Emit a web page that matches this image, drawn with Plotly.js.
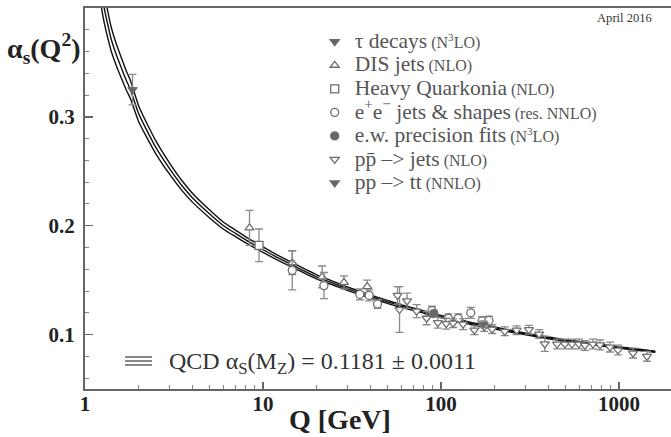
<!DOCTYPE html>
<html>
<head>
<meta charset="utf-8">
<script src="https://cdn.plot.ly/plotly-3.0.1.min.js"></script>
<style>html,body{margin:0;padding:0;background:#fff;}#chart{width:671px;height:437px;}</style>
</head>
<body>
<div id="chart"></div>
<script>
// QCD running-coupling band
const curveQ = [1.2, 1.25, 1.3, 1.35, 1.4, 1.5, 1.6, 1.7, 1.8, 2.0, 2.25, 2.5, 3, 3.5, 4, 5, 6, 7, 8, 10, 12, 15, 20, 25, 30, 40, 50, 60, 75, 91.19, 120, 150, 200, 300, 400, 500, 700, 1000, 1300, 1600];
const alphaCentral = [0.430, 0.410, 0.395, 0.383, 0.372, 0.357, 0.345, 0.334, 0.325, 0.303, 0.286, 0.272, 0.252, 0.237, 0.226, 0.211, 0.200, 0.193, 0.187, 0.178, 0.171, 0.163, 0.153, 0.147, 0.142, 0.135, 0.130, 0.126, 0.122, 0.1181, 0.1135, 0.1100, 0.1060, 0.1005, 0.0970, 0.0945, 0.0915, 0.0880, 0.0860, 0.0842];
const alphaUpper = [0.446, 0.424, 0.408, 0.395, 0.383, 0.367, 0.3544, 0.3428, 0.3333, 0.3103, 0.2925, 0.2779, 0.2571, 0.2415, 0.2301, 0.2146, 0.2032, 0.1960, 0.1898, 0.1805, 0.1733, 0.1651, 0.1549, 0.1487, 0.1436, 0.1365, 0.1314, 0.1273, 0.1232, 0.1192, 0.1145, 0.1110, 0.1069, 0.1013, 0.0978, 0.0952, 0.0922, 0.0886, 0.0866, 0.0848];
const alphaLower = [0.414, 0.396, 0.382, 0.371, 0.361, 0.347, 0.3356, 0.3252, 0.3167, 0.2957, 0.2795, 0.2661, 0.2469, 0.2325, 0.2219, 0.2074, 0.1968, 0.1900, 0.1842, 0.1755, 0.1687, 0.1609, 0.1511, 0.1453, 0.1404, 0.1335, 0.1286, 0.1247, 0.1208, 0.1170, 0.1125, 0.1090, 0.1051, 0.0997, 0.0962, 0.0938, 0.0908, 0.0874, 0.0854, 0.0836];

// Measurements
const tauQ = [1.85], tauA = [0.325], tauErr = [0.014];
const disQ = [8.4, 14.6, 21.5, 28.5, 38.5];
const disA = [0.198, 0.166, 0.153, 0.148, 0.144];
const disErr = [0.016, 0.011, 0.010, 0.006, 0.006];
const hqQ = [9.5], hqA = [0.182], hqErr = [0.015];
const eeQ = [14.6, 22, 35, 39.5, 44, 89, 110, 125, 147, 170, 186];
const eeA = [0.159, 0.145, 0.137, 0.136, 0.128, 0.122, 0.115, 0.115, 0.120, 0.1125, 0.113];
const eeErr = [0.018, 0.012, 0.005, 0.005, 0.004, 0.004, 0.004, 0.004, 0.005, 0.004, 0.004];
const ewQ = [91.19], ewA = [0.1193], ewErr = [0.003];
const ppbarQ = [57, 58.5, 64.5, 73, 83, 96, 107, 117, 133, 154, 175, 194, 228, 266, 312, 356, 383, 449, 497, 545, 596, 644, 714, 782, 890, 987, 1199, 1437];
const ppbarA = [0.136, 0.123, 0.131, 0.1215, 0.115, 0.111, 0.110, 0.1105, 0.1096, 0.104, 0.107, 0.105, 0.103, 0.104, 0.1045, 0.1005, 0.0915, 0.0913, 0.0913, 0.0913, 0.0913, 0.0900, 0.0913, 0.0905, 0.0885, 0.0858, 0.0830, 0.0800];
const ppbarErr = [0.008, 0.021, 0.007, 0.006, 0.006, 0.005, 0.005, 0.004, 0.005, 0.004, 0.004, 0.004, 0.004, 0.004, 0.004, 0.004, 0.007, 0.0045, 0.0045, 0.0045, 0.0045, 0.0045, 0.0045, 0.0045, 0.0045, 0.0045, 0.0045, 0.0045];
const ttQ = [173], ttA = [0.1095], ttErr = [0.003];

const xTickVals = [1, 10, 100, 1000];
const xTickText = ['1', '10', '100', '1000'];
const xMinorVals = [2,3,4,5,6,7,8,9,20,30,40,50,60,70,80,90,200,300,400,500,600,700,800,900];
const yTickVals = [0.1, 0.2, 0.3];
const yTickText = ['0.1', '0.2', '0.3'];

const SERIF = 'Liberation Serif';
const GREY = '#6e6e6e';
const BIG = "<span style=\"font-family:'Liberation Serif';font-size:21.5px\">";
const SMALL = "<span style=\"font-family:'Liberation Serif';font-size:16px\">";

function curve(y) {
  return {x: curveQ, y: y, type: 'scatter', mode: 'lines', showlegend: false,
          hoverinfo: 'skip', line: {color: '#111', width: 1.4, shape: 'spline', smoothing: 0.5}};
}
function meas(name, x, y, err, symbol, filled) {
  return {x: x, y: y, name: name, type: 'scatter', mode: 'markers',
          error_y: {type: 'data', array: err, visible: true, color: '#8a8a8a', thickness: 1.3, width: 4},
          marker: {symbol: symbol, size: 8, color: filled ? '#666' : '#fff', line: {color: GREY, width: 1.3}}};
}

const data = [
  curve(alphaUpper), curve(alphaCentral), curve(alphaLower),
  meas(BIG + 'τ decays</span> ' + SMALL + '(N<sup>3</sup>LO)</span>', tauQ, tauA, tauErr, 'triangle-down', true),
  meas(BIG + 'DIS jets</span> ' + SMALL + '(NLO)</span>', disQ, disA, disErr, 'triangle-up', false),
  meas(BIG + 'Heavy Quarkonia</span> ' + SMALL + '(NLO)</span>', hqQ, hqA, hqErr, 'square', false),
  meas(BIG + 'e<sup>+</sup>e<sup>−</sup> jets &amp; shapes</span> ' + SMALL + '(res. NNLO)</span>', eeQ, eeA, eeErr, 'circle', false),
  meas(BIG + 'e.w. precision fits</span> ' + SMALL + '(N<sup>3</sup>LO)</span>', ewQ, ewA, ewErr, 'circle', true),
  meas(BIG + 'pp\u0304 –> jets</span> ' + SMALL + '(NLO)</span>', ppbarQ, ppbarA, ppbarErr, 'triangle-down', false),
  meas(BIG + 'pp –> tt</span> ' + SMALL + '(NNLO)</span>', ttQ, ttA, ttErr, 'triangle-down', true)
];

const layout = {
  width: 671, height: 437,
  margin: {l: 85, r: 0, t: 8, b: 48},
  paper_bgcolor: '#fff', plot_bgcolor: '#fff',
  font: {family: SERIF, color: '#222'},
  xaxis: {
    type: 'log', range: [0, Math.log10(1960)],
    tickmode: 'array', tickvals: xTickVals, ticktext: xTickText,
    ticks: 'inside', ticklen: 7, tickwidth: 1.5, tickcolor: '#666',
    minor: {tickmode: 'array', tickvals: xMinorVals, ticks: 'inside', ticklen: 4, tickcolor: '#888', tickwidth: 1},
    showline: true, linecolor: '#666', linewidth: 2, mirror: true,
    showgrid: false, zeroline: false,
    tickfont: {family: SERIF, size: 21, color: '#222', weight: 'bold'},
    ticklabelstandoff: -5
  },
  yaxis: {
    range: [0.05, 0.4],
    tickmode: 'array', tickvals: yTickVals, ticktext: yTickText,
    ticks: 'inside', ticklen: 8, tickwidth: 1.5, tickcolor: '#666',
    minor: {dtick: 0.02, tick0: 0, ticks: 'inside', ticklen: 4, tickcolor: '#888', tickwidth: 1},
    showline: true, linecolor: '#666', linewidth: 2,
    showgrid: false, zeroline: false,
    tickfont: {family: SERIF, size: 21, color: '#222', weight: 'bold'},
    ticklabelstandoff: 4
  },
  legend: {
    x: 0.392, y: 0.9555, xanchor: 'left', yanchor: 'top',
    bgcolor: 'rgba(0,0,0,0)', borderwidth: 0,
    font: {family: SERIF, size: 15.8, color: '#555'},
    tracegroupgap: 0, itemwidth: 30
  },
  shapes: [0.084, 0.0735, 0.063].map(function (yy) {
    return {type: 'line', xref: 'paper', yref: 'paper', x0: 0.0683, x1: 0.1143, y0: yy, y1: yy,
            line: {color: '#555', width: 1.4}};
  }),
  annotations: [
    {xref: 'paper', yref: 'paper', x: -0.07, y: 0.895, xanchor: 'center', yanchor: 'middle', showarrow: false,
     text: '<b>α<sub>s</sub>(Q<sup>2</sup>)</b>', font: {family: SERIF, size: 28, color: '#222'}},
    {xref: 'paper', yref: 'paper', x: 0.435, y: -0.081, xanchor: 'center', yanchor: 'middle', showarrow: false,
     text: '<b>Q [GeV]</b>', font: {family: SERIF, size: 28, color: '#222'}},
    {xref: 'paper', yref: 'paper', x: 0.14, y: 0.068, xanchor: 'left', yanchor: 'middle', showarrow: false,
     text: 'QCD α<sub>S</sub>(M<sub>Z</sub>) = 0.1181 ± 0.0011', font: {family: SERIF, size: 24, color: '#333'}},
    {xref: 'paper', yref: 'paper', x: 0.92, y: 0.974, xanchor: 'center', yanchor: 'middle', showarrow: false,
     text: 'April 2016', font: {family: SERIF, size: 12.6, color: '#333'}}
  ]
};

Plotly.newPlot('chart', data, layout, {displayModeBar: false, staticPlot: true});
</script>
</body>
</html>
